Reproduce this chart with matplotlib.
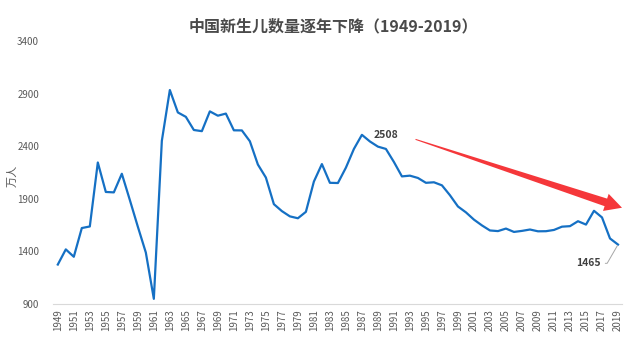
import matplotlib
matplotlib.use("Agg")
import matplotlib.pyplot as plt
from matplotlib.patches import Polygon
import numpy as np

plt.rcParams['font.family'] = ['Noto Sans CJK SC', 'DejaVu Sans']

years = list(range(1949, 2020))
births = [1275, 1419, 1349, 1622, 1637, 2245, 1965, 1961, 2138, 1889,
          1635, 1389, 949, 2451, 2934, 2721, 2679, 2554, 2543, 2731,
          2690, 2710, 2551, 2550, 2447, 2226, 2102, 1849, 1783, 1733,
          1715, 1776, 2064, 2230, 2052, 2050, 2196, 2374, 2508, 2445,
          2396, 2374, 2250, 2113, 2120, 2098, 2052, 2057, 2028, 1934,
          1827, 1771, 1702, 1647, 1599, 1593, 1617, 1585, 1595, 1608,
          1591, 1592, 1604, 1635, 1640, 1687, 1655, 1786, 1723, 1523,
          1465]
x_tick_labels = [str(y) for y in range(1949, 2020, 2)]
y_ticks = [900, 1400, 1900, 2400, 2900, 3400]
title = "中国新生儿数量逐年下降（1949-2019）"
y_label = "万人"
arrow_start = (1993.7, 2465)
arrow_end = (2019.5, 1815)

fig = plt.figure(figsize=(6.4, 3.47), dpi=100)
ax = fig.add_axes([53/640, 1-304/347, (622-53)/640, (304-41)/347])

ax.plot(years, births, color='#1570C4', lw=1.6, solid_joinstyle='round')
ax.set_xlim(1948.4, 2019.5)
ax.set_ylim(900, 3400)
ax.set_yticks(y_ticks)
ax.set_yticklabels([str(v) for v in y_ticks])
ax.set_xticks(list(range(1949, 2020, 2)))
ax.set_xticklabels(x_tick_labels, rotation=90)
ax.tick_params(axis='both', length=0, labelsize=7, colors='#595959')
ax.tick_params(axis='y', pad=10)
ax.tick_params(axis='x', pad=4)
for s in ['top', 'right', 'left']:
    ax.spines[s].set_visible(False)
ax.spines['bottom'].set_color('#D9D9D9')
ax.spines['bottom'].set_linewidth(0.8)

fig.text(333/640, 1-26/347, title, ha='center', va='center', fontsize=11.5,
         fontweight='bold', color='#4a4a4a')
fig.text(12/640, 1-176/347, y_label, ha='center', va='center', fontsize=8,
         rotation=90, color='#595959')

# annotations
i87 = years.index(1987)
ax.annotate(str(births[i87]), xy=(years[i87], births[i87]), xytext=(8.5, 0),
            textcoords='offset points', ha='left', va='center', fontsize=7.5,
            fontweight='bold', color='#404040')
ax.annotate(str(births[-1]), xy=(years[-1], births[-1]), xytext=(-21, -13.5),
            textcoords='offset points', ha='center', va='center', fontsize=7.5,
            fontweight='bold', color='#404040',
            arrowprops=dict(arrowstyle='-', color='#A6A6A6', lw=0.7,
                            shrinkA=1, shrinkB=1,
                            connectionstyle='angle,angleA=0,angleB=60,rad=0'))

# tapered red arrow in display coordinates
p0 = ax.transData.transform(arrow_start)
p1 = ax.transData.transform(arrow_end)
d = p1 - p0
L = np.hypot(*d)
u = d / L
n = np.array([-u[1], u[0]])
head_len = 17
head_hw = 9
tail_hw = 0.5
neck_hw = 4
base = p1 - u * head_len
pts = [p0 + n * tail_hw, base + n * neck_hw, base + n * head_hw, p1,
       base - n * head_hw, base - n * neck_hw, p0 - n * tail_hw]
poly = Polygon(pts, closed=True, transform=None, facecolor='#F5373A',
               edgecolor='none', zorder=5)
fig.patches.append(poly)

fig.savefig('out.png', dpi=100)
